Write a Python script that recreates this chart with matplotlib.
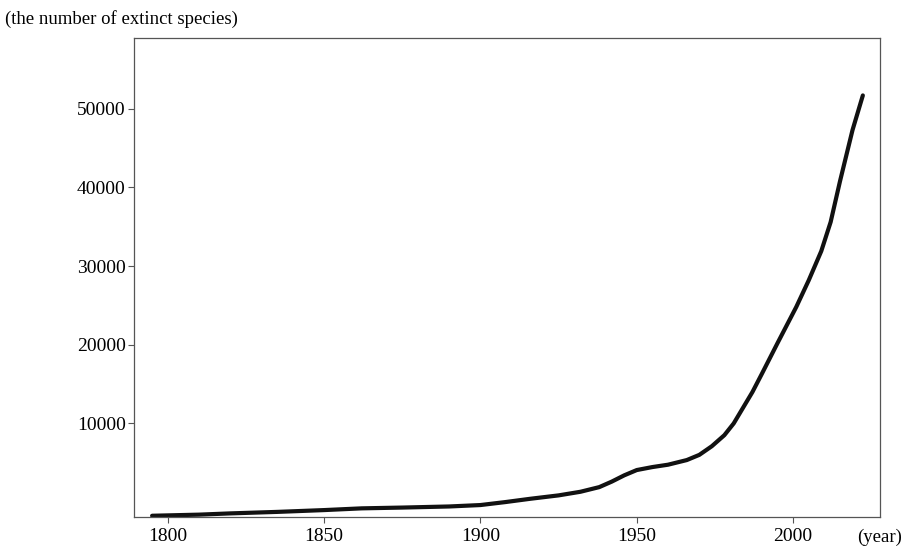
import matplotlib.pyplot as plt

# values
years = [1795, 1810, 1820, 1835, 1850, 1862, 1875, 1890, 1900, 1908, 1916,
         1925, 1932, 1938, 1942, 1946, 1950, 1955, 1960, 1966, 1970, 1974,
         1978, 1981, 1984, 1987, 1990, 1995, 2001, 2005, 2009, 2012, 2015,
         2019, 2022.3]
species = [-1740, -1600, -1440, -1250, -1020, -800, -700, -560, -380, 0, 420,
           850, 1310, 1900, 2600, 3400, 4070, 4450, 4750, 5340, 6000, 7100,
           8500, 10000, 12000, 14000, 16300, 20200, 24800, 28200, 31900, 35600,
           40800, 47300, 51700]

yticks = [10000, 20000, 30000, 40000, 50000]
xticks = [1800, 1850, 1900, 1950, 2000]

plt.rcParams['font.family'] = ['Liberation Serif', 'DejaVu Serif']

fig = plt.figure(figsize=(9.04, 5.46), dpi=100)
ax = fig.add_axes([0.1482, 0.0531, 0.9735 - 0.1482, 0.9304 - 0.0531])

ax.plot(years, species, color='#111111', lw=3.0, solid_capstyle='round',
        solid_joinstyle='round')

ax.set_xlim(1789.2, 2027.8)
ax.set_ylim(-1900, 59000)
ax.set_xticks(xticks)
ax.set_yticks(yticks)
ax.tick_params(labelsize=14, length=4, width=0.8, color='#555555', pad=2)
ax.tick_params(axis='x', pad=4)

for s in ax.spines.values():
    s.set_color('#555555')
    s.set_linewidth(0.9)

fig.text(0.006, 0.965, '(the number of extinct species)', fontsize=13.5, va='center', ha='left')
fig.text(0.998, 0.016, '(year)', fontsize=13.5, va='center', ha='right')

fig.savefig('out.png', dpi=100)
